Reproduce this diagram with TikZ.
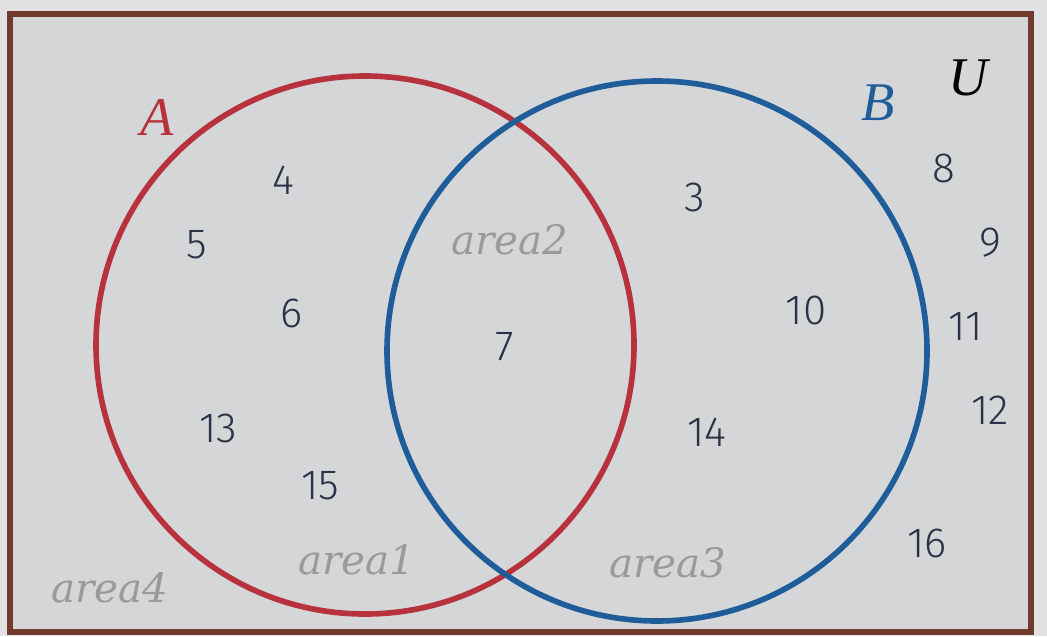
\documentclass[tikz,border=0pt]{standalone}
\usepackage{fontspec}
\setmainfont{Liberation Serif}
\newfontfamily\handfont{Fira Sans Light}
\newfontfamily\areafont{DejaVu Serif}
\usetikzlibrary{positioning}
\definecolor{cframe}{HTML}{6E3B2C}
\definecolor{cpaper}{HTML}{D5D6D8}
\definecolor{cback}{HTML}{E2E2E2}
\definecolor{cred}{HTML}{B8323D}
\definecolor{cblue}{HTML}{1F5C9A}
\definecolor{cink}{HTML}{2B3248}
\definecolor{cgrey}{HTML}{9A9A9C}
\tikzset{
  every picture/.style={line width=1.2pt},
  setcircle/.style={draw=#1, line width=3.2pt},
  setname/.style={text=#1, font=\fontsize{31}{31}\selectfont\itshape},
  elem/.style={text=cink, font=\handfont\fontsize{24}{24}\selectfont},
  area/.style={text=cgrey, font=\areafont\fontsize{23}{23}\selectfont\itshape},
}

\begin{document}
\begin{tikzpicture}
  \fill[cback] (0,0) rectangle (20.94,12.72);
  \useasboundingbox (0,0) rectangle (20.94,12.72);
  \draw[draw=cframe, fill=cpaper, line width=3pt] (0.2,0.08) rectangle (20.62,12.44);
  \draw[setcircle=cred] (7.3,5.82) circle (5.38);
  \draw[setcircle=cblue] (13.14,5.70) circle (5.4);
  % set names
  \node[setname=cred] (nA) at (3.14,10.36) {A};
  \node[setname=cblue] (nB) at (17.56,10.66) {B};
  \node[setname=black] (nU) at (19.36,11.16) {U};
  % elements
  \foreach \n/\x/\y in {4/5.66/9.12, 5/3.94/7.82, 6/5.84/6.46, 13/4.36/4.16, 15/6.4/3.0,
                        7/10.1/5.78, 3/13.9/8.78, 10/16.12/6.52, 14/14.14/4.08,
                        8/18.88/9.36, 9/19.8/7.86, 11/19.32/6.2, 12/19.8/4.52, 16/18.54/1.86} {
    \node[elem] (e\n) at (\x,\y) {\n};
  }
  % areas
  \node[area] (a1) at (7.14,1.52) {area1};
  \node[area] (a2) at (10.2,7.92) {area2};
  \node[area] (a3) at (13.36,1.46) {area3};
  \node[area] (a4) at (2.2,0.96) {area4};
\end{tikzpicture}
\end{document}
